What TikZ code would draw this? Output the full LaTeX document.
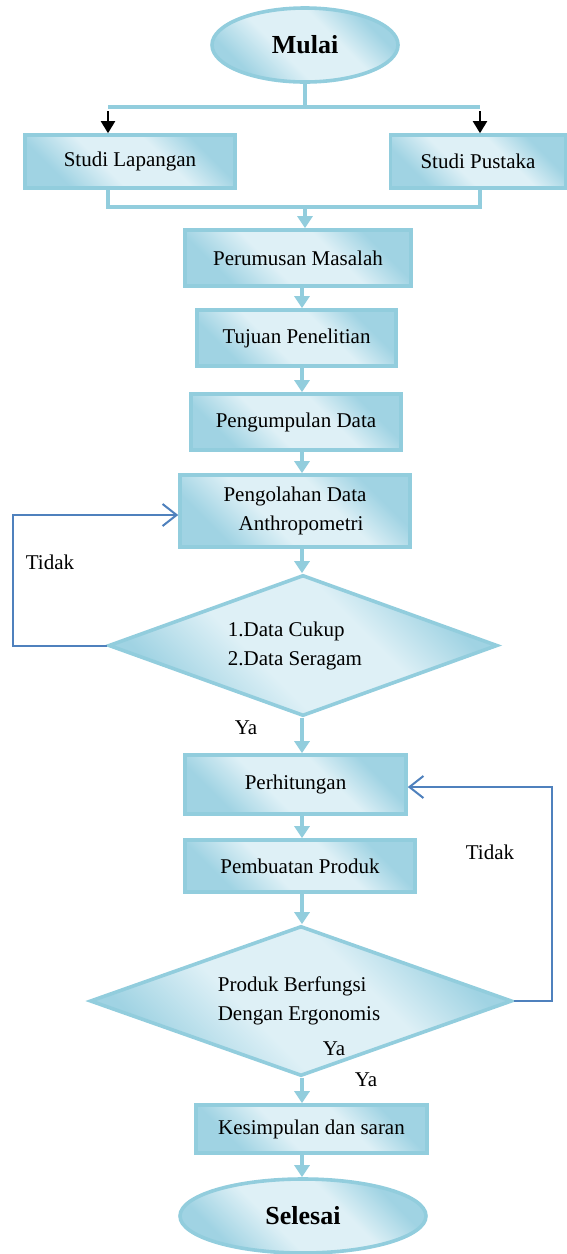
\documentclass[tikz,border=0pt]{standalone}
\usepackage{fontspec}
\setmainfont{Liberation Serif}
\usetikzlibrary{shapes.geometric,arrows.meta}
\definecolor{bord}{RGB}{146,205,221}
\definecolor{shdark}{RGB}{160,211,227}
\definecolor{shlight}{RGB}{222,240,246}
\definecolor{loopblue}{RGB}{79,129,189}
\pgfdeclarehorizontalshading{flowshade}{100bp}{color(0bp)=(shdark); color(27bp)=(shdark); color(42bp)=(shlight); color(60bp)=(shlight); color(73bp)=(shdark); color(100bp)=(shdark)}
\tikzset{
  txt/.style={font=\fontsize{21}{29}\selectfont},
  shadedbox/.style={draw=bord, line width=3.6pt, shade, shading=flowshade, shading angle=45},
  stepbox/.style={shadedbox, rectangle, inner sep=0pt, align=center, txt},
  term/.style={shadedbox, ellipse, inner sep=0pt, font=\fontsize{26}{30}\selectfont\bfseries},
  decision/.style={shadedbox, diamond, aspect=2.75, inner sep=0pt, align=left, txt},
  conn/.style={draw=bord, line width=4pt, -{Triangle[width=15pt,length=12pt]}},
  plain/.style={draw=bord, line width=4pt},
  blackarrow/.style={draw=black, line width=2pt, -{Triangle[width=14pt,length=12pt]}},
  loopline/.style={draw=loopblue, line width=2pt, -{Straight Barb[length=14pt,width=22pt,line width=2pt]}},
  lbl/.style={txt, inner sep=0pt}
}
\begin{document}
\begin{tikzpicture}[x=1pt,y=-1pt]
\useasboundingbox (0,0) rectangle (567,1254);
% nodes
\node[term, minimum width=186pt, minimum height=74pt] (start) at (305,45) {Mulai};
\node[stepbox, minimum width=210pt, minimum height=53pt] (lap) at (130,161.5) {Studi Lapangan};
\node[stepbox, minimum width=175pt, minimum height=53pt] (pus) at (478,161.5) {Studi Pustaka};
\node[stepbox, minimum width=226pt, minimum height=56pt] (rum) at (298,258) {Perumusan Masalah};
\node[stepbox, minimum width=199pt, minimum height=56pt] (tuj) at (296.5,338) {Tujuan Penelitian};
\node[stepbox, minimum width=210pt, minimum height=56pt] (kum) at (296,422) {Pengumpulan Data};
\node[stepbox, minimum width=230pt, minimum height=72pt] (olah) at (295,511) {Pengolahan Data\\ \hspace*{12pt}Anthropometri};
\node[decision, minimum width=389pt, minimum height=141pt] (d1) at (303,645.5) {1.Data Cukup\\2.Data Seragam\hspace*{16pt}};
\node[stepbox, minimum width=221pt, minimum height=59pt] (hit) at (295.5,784.5) {Perhitungan};
\node[stepbox, minimum width=230pt, minimum height=52pt] (buat) at (300,866) {Pembuatan Produk};
\node[decision, minimum width=422pt, minimum height=150pt] (d2) at (301,1001) {Produk Berfungsi\\Dengan Ergonomis\hspace*{4pt}};
\node[stepbox, minimum width=231pt, minimum height=48pt] (simp) at (311.5,1129) {Kesimpulan dan saran};
\node[term, minimum width=246pt, minimum height=74pt] (end) at (303,1216) {Selesai};
% labels
\node[lbl] (t1) at (50,562) {Tidak};
\node[lbl] (y1) at (246,728) {Ya};
\node[lbl] (t2) at (490,852) {Tidak};
\node[lbl] (y2) at (334,1049) {Ya};
\node[lbl] (y3) at (366,1080) {Ya};
% coordinates
\coordinate (split) at (305,107);
\coordinate (spL) at (108,107);
\coordinate (spR) at (480,107);
\coordinate (bL) at (108,111);
\coordinate (bR) at (480,111);
\coordinate (mL) at (108,207);
\coordinate (mR) at (480,207);
\coordinate (merge) at (305,207);
\coordinate (spine) at (302,0);
\coordinate (l1) at (13,515);
\coordinate (l2) at (552,787);
% top split
\draw[blackarrow] (bL) -- (lap.north -| bL);
\draw[blackarrow] (bR) -- (pus.north -| bR);
\draw[plain] (start.south -| split) -- (split);
\draw[plain] (spL) -- (spR);
% merge
\draw[plain, line join=miter] (lap.south -| mL) -- (mL) -- (mR) -- (pus.south -| mR);
\draw[conn] (merge) -- (rum.north -| merge);
% main spine
\draw[conn] (rum.south -| spine) -- (tuj.north -| spine);
\draw[conn] (tuj.south -| spine) -- (kum.north -| spine);
\draw[conn] (kum.south -| spine) -- (olah.north -| spine);
\draw[conn] (olah.south -| spine) -- (d1.north -| spine);
\draw[conn] (d1.south -| spine) -- (hit.north -| spine);
\draw[conn] (hit.south -| spine) -- (buat.north -| spine);
\draw[conn] (buat.south -| spine) -- (d2.north -| spine);
\draw[conn] (d2.south -| spine) -- (simp.north -| spine);
\draw[conn] (simp.south -| spine) -- (end.north -| spine);
% loops
\draw[loopline] (d1.west) -| (l1) -- (olah.west |- l1);
\draw[loopline] (d2.east) -| (l2) -- (hit.east |- l2);
\end{tikzpicture}
\end{document}
